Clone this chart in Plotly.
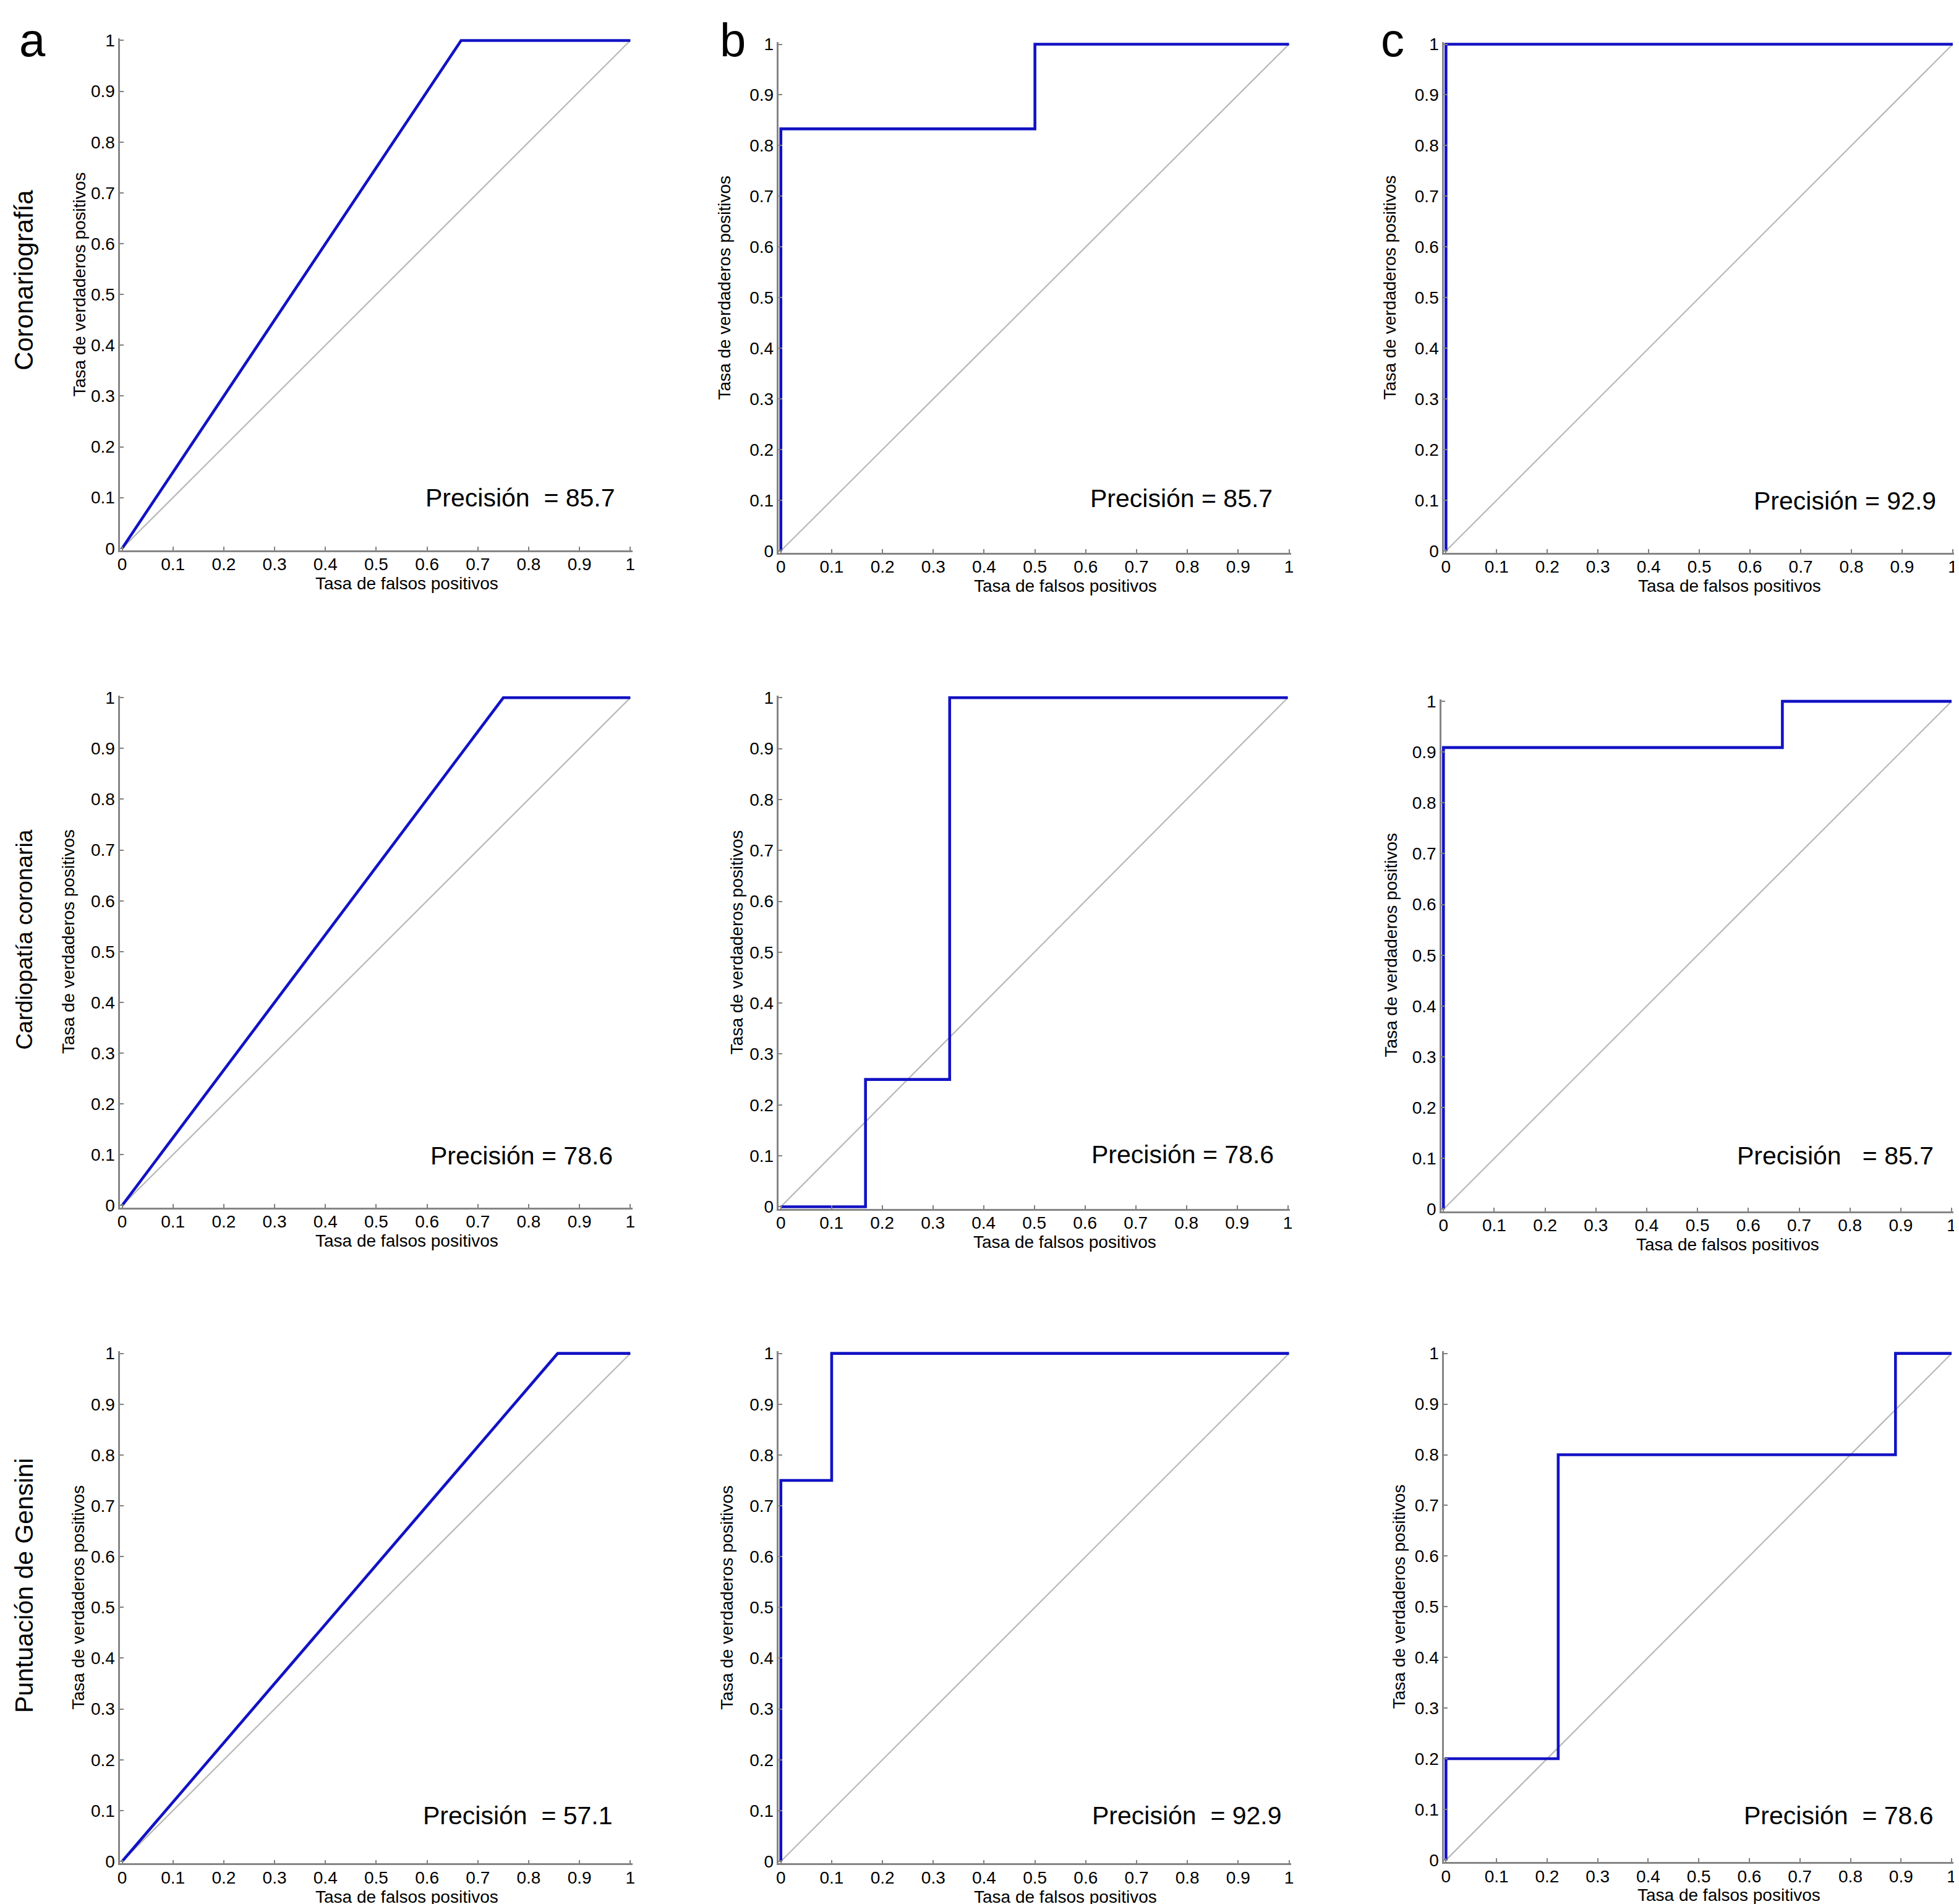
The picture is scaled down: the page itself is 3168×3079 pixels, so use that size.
import plotly.graph_objects as go

# tick values shared by every panel
TICK_VALS = [0, 0.1, 0.2, 0.3, 0.4, 0.5, 0.6, 0.7, 0.8, 0.9, 1]
TICK_TEXT = ["0", "0.1", "0.2", "0.3", "0.4", "0.5", "0.6", "0.7", "0.8", "0.9", "1"]

ROW_TITLES = ["Coronariografía", "Cardiopatía coronaria", "Puntuación de Gensini"]
COL_LETTERS = ["a", "b", "c"]

# ROC curves (false positive rate, true positive rate)
fpr_coro_a = [0, 0.667, 1]
tpr_coro_a = [0, 1, 1]
fpr_coro_b = [0, 0, 0.5, 0.5, 1]
tpr_coro_b = [0, 0.833, 0.833, 1, 1]
fpr_coro_c = [0, 0, 1]
tpr_coro_c = [0, 1, 1]

fpr_cardio_a = [0, 0.75, 1]
tpr_cardio_a = [0, 1, 1]
fpr_cardio_b = [0, 0.167, 0.167, 0.333, 0.333, 1]
tpr_cardio_b = [0, 0, 0.25, 0.25, 1, 1]
fpr_cardio_c = [0, 0, 0.667, 0.667, 1]
tpr_cardio_c = [0, 0.909, 0.909, 1, 1]

fpr_gensini_a = [0, 0.857, 1]
tpr_gensini_a = [0, 1, 1]
fpr_gensini_b = [0, 0, 0.1, 0.1, 1]
tpr_gensini_b = [0, 0.75, 0.75, 1, 1]
fpr_gensini_c = [0, 0, 0.222, 0.222, 0.889, 0.889, 1]
tpr_gensini_c = [0, 0.2, 0.2, 0.8, 0.8, 1, 1]

precision_labels = [
    "Precisión  = 85.7", "Precisión = 85.7", "Precisión = 92.9",
    "Precisión = 78.6", "Precisión = 78.6", "Precisión   = 85.7",
    "Precisión  = 57.1", "Precisión  = 92.9", "Precisión  = 78.6",
]
precision_y = [0.1, 0.103, 0.098, 0.098, 0.103, 0.105, 0.09, 0.09, 0.088]
precision_x = [0.973, 0.97, 0.97, 0.968, 0.975, 0.967, 0.968, 0.988, 0.967]

curves = [
    (fpr_coro_a, tpr_coro_a), (fpr_coro_b, tpr_coro_b), (fpr_coro_c, tpr_coro_c),
    (fpr_cardio_a, tpr_cardio_a), (fpr_cardio_b, tpr_cardio_b), (fpr_cardio_c, tpr_cardio_c),
    (fpr_gensini_a, tpr_gensini_a), (fpr_gensini_b, tpr_gensini_b), (fpr_gensini_c, tpr_gensini_c),
]

W, H = 3168, 3079
FONT = "Liberation Sans, Arial, Helvetica, sans-serif"
# per-panel domains (x0, x1, y0, y1) in paper units
panel_dom = [
    (0.0574, 0.3197, 0.7152, 0.9862), (0.3947, 0.6570, 0.7139, 0.9842), (0.7353, 0.9969, 0.7139, 0.9842),
    (0.0574, 0.3197, 0.3674, 0.6383), (0.3947, 0.6564, 0.3667, 0.6383), (0.7340, 0.9963, 0.3654, 0.6364),
    (0.0574, 0.3197, 0.0202, 0.2912), (0.3947, 0.6570, 0.0202, 0.2912), (0.7353, 0.9963, 0.0209, 0.2912),
]
ytitle_shift = [69, 91, 91, 87, 71, 85, 71, 87, 75]

fig = go.Figure()
annotations = []

for i, (fpr, tpr) in enumerate(curves):
    k = i + 1
    xa = "x" if k == 1 else "x%d" % k
    ya = "y" if k == 1 else "y%d" % k
    x0, x1, y0, y1 = panel_dom[i]

    # chance diagonal
    fig.add_trace(go.Scatter(x=[0, 1], y=[0, 1], mode="lines", xaxis=xa, yaxis=ya,
                             line=dict(color="#b8b8b8", width=2.2), showlegend=False,
                             hoverinfo="skip"))
    fig.add_trace(go.Scatter(x=fpr, y=tpr, mode="lines", xaxis=xa, yaxis=ya,
                             line=dict(color="#1212c4", width=4.6), showlegend=False))

    axis_style = dict(range=[-0.004, 1.004], tickmode="array", tickvals=TICK_VALS,
                      ticktext=TICK_TEXT, ticks="inside", ticklen=6, tickwidth=2,
                      tickcolor="#808080", showline=True, linecolor="#858585",
                      linewidth=2.5, showgrid=False, zeroline=False,
                      tickfont=dict(family=FONT, size=28, color="black"))
    fig.layout["xaxis" if k == 1 else "xaxis%d" % k] = dict(
        axis_style, domain=[x0, x1], anchor=ya, ticklabelstandoff=-4)
    fig.layout["yaxis" if k == 1 else "yaxis%d" % k] = dict(
        axis_style, domain=[y0, y1], anchor=xa)

    annotations.append(dict(text=precision_labels[i], x=precision_x[i], y=precision_y[i],
                            xref=xa, yref=ya, xanchor="right", yanchor="middle",
                            showarrow=False, font=dict(family=FONT, size=41, color="black")))
    annotations.append(dict(text="Tasa de falsos positivos", x=0.56, y=0, xref=xa, yref=ya,
                            yshift=-57, xanchor="center", yanchor="middle", showarrow=False,
                            font=dict(family=FONT, size=28, color="black")))
    annotations.append(dict(text="Tasa de verdaderos positivos", x=0, y=0.52, xref=xa, yref=ya,
                            xshift=-ytitle_shift[i], textangle=-90, xanchor="center",
                            yanchor="middle", showarrow=False,
                            font=dict(family=FONT, size=28, color="black")))

# row titles on the far left
for title, yc, fs in zip(ROW_TITLES, [0.8583, 0.5092, 0.1673], [42, 37, 41]):
    annotations.append(dict(text=title, x=0.0083, y=yc, xref="paper", yref="paper",
                            textangle=-90, xanchor="center", yanchor="middle",
                            showarrow=False, font=dict(family=FONT, size=fs, color="black")))

# panel letters
for letter, xc in zip(COL_LETTERS, [0.0125, 0.3710, 0.7090]):
    annotations.append(dict(text=letter, x=xc, y=1, xref="paper", yref="paper",
                            xanchor="center", yanchor="top", showarrow=False,
                            font=dict(family=FONT, size=76, color="black")))

fig.update_layout(width=W, height=H, margin=dict(l=0, r=0, t=0, b=0),
                  plot_bgcolor="white", paper_bgcolor="white",
                  annotations=annotations, showlegend=False)

fig.write_html("out.html")
